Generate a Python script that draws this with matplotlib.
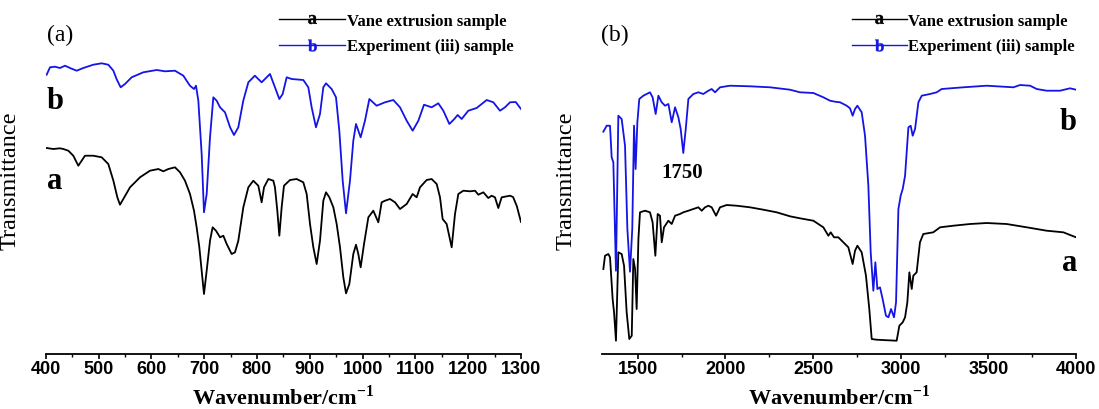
import matplotlib
matplotlib.use("Agg")
import matplotlib.pyplot as plt
from matplotlib.lines import Line2D

plt.rcParams["font.family"] = ["Liberation Serif", "DejaVu Serif"]
plt.rcParams["mathtext.fontset"] = "custom"
plt.rcParams["mathtext.rm"] = "Liberation Serif"
plt.rcParams["mathtext.bf"] = "Liberation Serif:bold"

# ---- panel (a): 400-1300 cm-1 ----
wn_a_vane = [401.6, 414.3, 426.9, 433.2, 442.7, 452.1, 461.6, 467.9, 474.2, 490, 505.8, 518.4, 528,
             535.5, 540.5, 546.8, 559.5, 578.4, 597.3, 613.1, 622.6, 632.1, 644.7, 654.2, 663.6, 673.1,
             680.7, 685.7, 690.8, 695.2, 699.6, 704.7, 711, 716, 722.3, 730, 736.2, 742.6, 752, 758.3,
             764.6, 774.1, 783.6, 793, 802.5, 808.8, 813.3, 821.5, 830.9, 834, 838.5, 842.3, 846.7,
             851.1, 862.5, 875.1, 887.7, 894.1, 900.4, 906.7, 913, 919.3, 925.6, 930.7, 937, 944.6,
             950.9, 957.2, 963.5, 968.6, 974.9, 982.4, 987.5, 991.9, 996.3, 1002.7, 1010.9, 1020.3,
             1029.8, 1036.1, 1042.4, 1051.9, 1061.4, 1070.8, 1083.5, 1094.8, 1102.4, 1108.7, 1121.3,
             1130.8, 1140.3, 1146.6, 1151.6, 1159.2, 1168.7, 1175, 1181.3, 1190.8, 1203.4, 1212.9,
             1219.2, 1228.7, 1238.1, 1244.4, 1250.7, 1257, 1263.4, 1279.2, 1285, 1292, 1300]
t_a_vane = [206, 205, 205.7, 205, 203.3, 198.3, 188.3, 193.3, 198.3, 198.3, 196.7, 190, 173.3,
            156.7, 149.3, 155, 166.7, 176.7, 183.3, 185, 182.7, 185, 186.7, 181.7, 173.3, 160,
            143.3, 126.7, 106.7, 83.3, 60, 83.3, 113.3, 126.7, 123.3, 116.7, 118.3, 110, 100, 101.7,
            113.3, 146.7, 166.7, 173.3, 168.3, 151.7, 166.7, 175, 173.3, 166.7, 143.3, 118.3, 146.7,
            168.3, 174, 175, 171.7, 160, 130, 106.7, 90, 113.3, 153.3, 161.7, 156.7, 146.7,
            130, 106.7, 76.7, 60.7, 70, 100, 109.3, 100, 86.7, 110, 136.7, 143.3,
            131.7, 151.7, 153.3, 155, 151.7, 145, 150, 160, 156.7, 166.7, 174,
            175, 170, 156.7, 135, 130, 106.7, 140, 160, 163.3, 162.7, 163.3,
            159.3, 161.7, 156, 158.3, 156.7, 146, 156.7, 158.3, 157, 148, 132]

wn_a_exp = [401.6, 408, 417.4, 426.9, 436.4, 445.8, 458.5, 471, 490, 505.8, 518.4, 528, 534, 541.8,
            550, 562.6, 584.7, 610, 625.8, 644.7, 660.5, 673, 680.7, 684.5, 688.9, 695.2, 699.6,
            704.7, 711, 717.3, 723.6, 730, 739.4, 749, 756.4, 764.6, 774, 783.6, 796, 808.8, 824.6,
            834, 842.3, 848.6, 856.2, 865.7, 887.7, 897.2, 903.5, 911.7, 919.3, 925.6, 930.7, 941.4,
            949.6, 955.9, 962.3, 968.6, 976.1, 982.4, 987.5, 996.3, 1004.5, 1012.8, 1026.6, 1042.4,
            1058.2, 1070.8, 1083.5, 1094.8, 1105.6, 1116.3, 1130.8, 1143.4, 1152.9, 1164.3, 1173.7,
            1180, 1187.6, 1200.2, 1216, 1235, 1247.6, 1260.2, 1269.7, 1279.2, 1290, 1300]
t_a_exp = [279.3, 286.7, 287.3, 286, 288.3, 286, 283.3, 286, 289.3, 290.7, 289.3, 283.3, 275, 266.7,
           270, 276.7, 281.7, 284, 282.7, 283.3, 278.3, 268.3, 265, 268.3, 253.3, 200, 141.7,
           160, 216.7, 256.7, 253.3, 246.7, 241.7, 226.7, 219, 226.7, 253.3, 271.7, 278.3, 271.7, 280,
           266.7, 255, 260, 276.7, 275, 274, 266.7, 246.7, 226.7, 240, 266.7, 270.7, 265,
           256.7, 223.3, 173.3, 140.7, 173.3, 213.3, 230, 216.7, 233.3, 255, 248.3, 251.7,
           254, 246.7, 233.3, 223.3, 233.3, 249.3, 246.7, 250.7, 243.3, 230, 235,
           239, 235, 243.3, 246, 254, 251.7, 243.3, 246.7, 251.7, 252, 245]

# ---- panel (b): 1300-4000 cm-1 ----
wn_b_vane = [1304, 1313.5, 1332.5, 1342, 1357, 1365, 1376, 1389.5, 1408.5, 1422, 1437, 1452, 1466,
             1475, 1485, 1494, 1504, 1513, 1542, 1570, 1585, 1600.6, 1614, 1627, 1637, 1650, 1675,
             1694, 1713, 1741, 1760, 1789, 1817, 1846, 1865, 1884, 1903, 1922, 1947, 1969.5, 2007.5,
             2064.6, 2140.6, 2216.7, 2292.8, 2368.8, 2425.8, 2501.9, 2558.9, 2587.5, 2600.8, 2619.8,
             2644.5, 2673, 2701.5, 2726, 2739.6, 2753, 2777.6, 2802, 2821, 2834.7, 2863, 2977, 2992.5,
             3011.5, 3025, 3038, 3049.5, 3063, 3072, 3091, 3110, 3129, 3186, 3224.5, 3300.5, 3395.6,
             3490.7, 3604.8, 3719, 3833, 3928, 4000]
t_b_vane = [85, 98.3, 100, 96.7, 55, 41.7, 13.3, 101.7, 100, 88.3, 41.7, 15, 18.3,
            95, 85, 45, 115, 141.7, 143.3, 141.7, 131.7, 98.3, 140, 138.3, 111.7, 126.7, 133.3,
            130, 138.3, 140, 141.7, 143.3, 145, 146.7, 143.3, 146.7, 148.3, 146.7, 138.3, 146.7, 149,
            148.3, 146.7, 144.3, 141.7, 137.7, 135.7, 133.3, 126.7, 118.3, 121.7, 116.7,
            116.7, 111.7, 106.7, 90, 103.3, 108.3, 101.7, 78.3, 45, 15, 14.3, 13.3, 28.3,
            31.7, 36.7, 51.7, 81.7, 65, 78.3, 81.7, 111.7, 120, 121.7, 126.7, 128.3, 130,
            131, 130, 126.7, 123.3, 121.7, 116.7]

wn_b_exp = [1304, 1323, 1342, 1351.5, 1361, 1376, 1389.5, 1408.5, 1427.6, 1441, 1456, 1469, 1479,
            1488, 1498, 1509, 1532, 1570, 1585, 1602.5, 1618, 1637, 1656, 1675, 1694, 1713, 1732,
            1745, 1760, 1774, 1789, 1817, 1846, 1874, 1903, 1922, 1941, 1969.5, 2026.5, 2140.6,
            2254.7, 2368.8, 2425.8, 2501.9, 2558.9, 2597, 2625.5, 2654, 2692, 2711, 2726, 2739.6,
            2753, 2777.6, 2796.6, 2815.6, 2829, 2844, 2855.6, 2867, 2882, 2897, 2916, 2930, 2945,
            2962, 2973.5, 2987, 3000, 3011.5, 3025, 3044, 3057, 3068.6, 3082, 3101, 3120, 3167,
            3205.5, 3234, 3357.6, 3490.7, 3643, 3681, 3738, 3776, 3833, 3909, 3966, 4000]
t_b_exp = [222.3, 228.3, 228.3, 196.7, 191.7, 83.3, 238.3, 235, 208.3, 125, 82.3, 125, 228.3,
           185, 231.7, 255, 258.3, 261.7, 256.7, 240, 258.3, 251.7, 248.3, 250, 231.7, 246.7, 236.7,
           225, 201, 225, 255, 260, 261.7, 260, 263.3, 265, 261.7, 266.7, 268.3, 267.7,
           266.7, 264.3, 261.7, 261, 256.7, 253.3, 252.3, 251.7, 248.3, 245.7, 238.3, 245,
           248.3, 241.7, 218.3, 168.3, 101.7, 63.3, 91.7, 65, 66.7, 55, 38.3, 36.7, 45,
           36.7, 51.7, 145, 158.3, 165, 178.3, 226.7, 228.3, 218.3, 225, 251.7, 258.3, 260,
           261.7, 265, 266.7, 268.3, 266.7, 269, 268.3, 265, 263.3, 263.3, 265.7, 264.3]

series_names = ["Vane extrusion sample", "Experiment (iii) sample"]
BLUE = "#1414e6"
LW = 1.3

fig = plt.figure(figsize=(10.99, 4.10), dpi=100)
ax1 = fig.add_axes([0.04167, 0.1341, 0.4324, 0.8659])
ax2 = fig.add_axes([0.54804, 0.1341, 0.43103, 0.8659])

ax1.plot(wn_a_vane, t_a_vane, color="black", lw=LW)
ax1.plot(wn_a_exp, t_a_exp, color=BLUE, lw=LW)
ax2.plot(wn_b_vane, t_b_vane, color="black", lw=LW)
ax2.plot(wn_b_exp, t_b_exp, color=BLUE, lw=LW)

ax1.set_xlim(400, 1300)
ax1.set_xticks(range(400, 1301, 100))
ax1.set_xticks(range(450, 1300, 100), minor=True)
ax2.set_xlim(1298, 4000)
ax2.set_xticks(range(1500, 4001, 500))
ax2.set_xticks(range(1750, 4000, 500), minor=True)

# legend placement per panel: (anchor x, handle length)
leg_pos = {ax1: (0.49, 4.0), ax2: (0.5265, 3.3)}

for ax, tag, lx in [(ax1, "(a)", 0.03), (ax2, "(b)", 0.027)]:
    ax.set_ylim(0, 355)
    ax.set_yticks([])
    for s in ["left", "top", "right"]:
        ax.spines[s].set_visible(False)
    ax.spines["bottom"].set_linewidth(1.3)
    ax.tick_params(axis="x", which="major", direction="out", length=3.5, width=1.2, pad=0.5)
    ax.tick_params(axis="x", which="minor", direction="out", length=2.5, width=1.0)
    plt.setp(ax.get_xticklabels(), family="Liberation Sans", weight="bold", fontsize=13)
    ax.set_xlabel("Wavenumber/cm$^{\\mathbf{-1}}$", fontsize=16, fontweight="bold")
    ax.xaxis.set_label_coords(0.5, -0.085)
    ax.set_ylabel("Transmittance", fontsize=17.5)
    ax.yaxis.set_label_coords(-0.054, 0.49)
    ax.text(lx, 0.9, tag, transform=ax.transAxes, fontsize=17, ha="center", va="center")

    handles = [Line2D([], [], color="black", lw=1.0, marker="$\\mathbf{a}$", markersize=6.5,
                      markeredgewidth=0.3),
               Line2D([], [], color=BLUE, lw=1.0, marker="$\\mathbf{b}$", markersize=8.5,
                      markeredgewidth=0.3, markerfacecolor=BLUE, markeredgecolor=BLUE)]
    anchor_x, hlen = leg_pos[ax]
    ax.legend(handles, series_names, loc="upper left", bbox_to_anchor=(anchor_x, 0.96),
              frameon=False, borderpad=0, borderaxespad=0, handlelength=hlen, handletextpad=0.1,
              labelspacing=0.55, prop=dict(family="Liberation Serif", weight="bold", size=12))

# curve letters
ax1.text(0.0025, 0.713, "b", transform=ax1.transAxes, fontsize=22, fontweight="bold", va="center")
ax1.text(0.0025, 0.488, "a", transform=ax1.transAxes, fontsize=22, fontweight="bold", va="center")
ax2.text(1.002, 0.656, "b", transform=ax2.transAxes, fontsize=22, fontweight="bold",
         va="center", ha="right")
ax2.text(1.002, 0.258, "a", transform=ax2.transAxes, fontsize=22, fontweight="bold",
         va="center", ha="right")
ax2.text(1755, 182, "1750", fontsize=15, fontweight="bold", ha="center", va="center")

fig.savefig("out.png", dpi=100)
